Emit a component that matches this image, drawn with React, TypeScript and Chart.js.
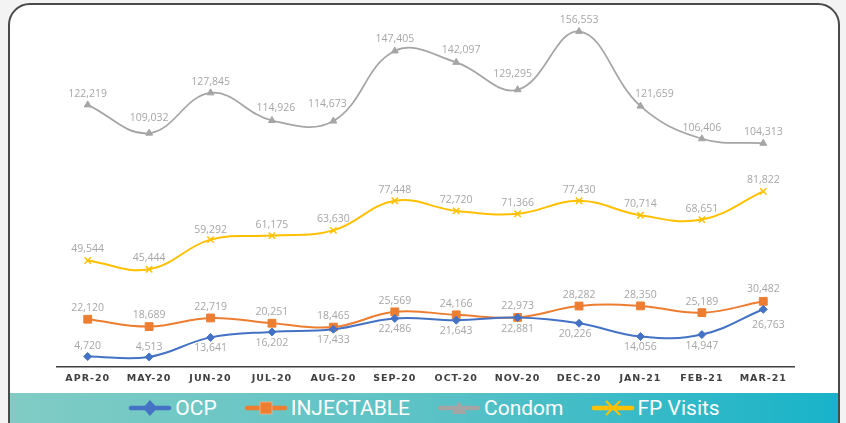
import React, { useEffect, useRef } from 'react';
import { Chart, registerables } from 'chart.js';

Chart.register(...registerables);

// ---------- data ----------
const months = ['APR-20', 'MAY-20', 'JUN-20', 'JUL-20', 'AUG-20', 'SEP-20', 'OCT-20', 'NOV-20', 'DEC-20', 'JAN-21', 'FEB-21', 'MAR-21'];
const ocpValues = [4720, 4513, 13641, 16202, 17433, 22486, 21643, 22881, 20226, 14056, 14947, 26763];
const injectableValues = [22120, 18689, 22719, 20251, 18465, 25569, 24166, 22973, 28282, 28350, 25189, 30482];
const condomValues = [122219, 109032, 127845, 114926, 114673, 147405, 142097, 129295, 156553, 121659, 106406, 104313];
const fpVisitsValues = [49544, 45444, 59292, 61175, 63630, 77448, 72720, 71366, 77430, 70714, 68651, 81822];
const yAxisMin = 0;
const yAxisMax = 160000;
const seriesNames = ['OCP', 'INJECTABLE', 'Condom', 'FP Visits'];

// ---------- value label placement (1 = above, -1 = below) ----------
const ocpLabelSide = [1, 1, -1, -1, -1, -1, -1, -1, -1, -1, -1, -1];
const ocpLabelGap = [10, 10, 11, 11, 11, 11, 11, 11, 11, 11, 11, 16];
const ocpLabelDx = [0, 0, 0, 0, 0, 0, 0, 0, -4, 0, 0, 5];
const injectableLabelSide = [1, 1, 1, 1, 1, 1, 1, 1, 1, 1, 1, 1];
const injectableLabelGap = [11, 12, 11, 11, 11, 11, 11, 11, 11, 11, 11, 12];
const injectableLabelDx = [0, 0, 0, 0, 0, 0, 0, 0, 0, 0, 0, 0];
const condomLabelSide = [1, 1, 1, 1, 1, 1, 1, 1, 1, 1, 1, 1];
const condomLabelGap = [11, 15, 11, 12, 17, 12, 12, 16, 11, 12, 11, 11];
const condomLabelDx = [0, 0, 0, 4, -6, 0, 5, -5, 0, 14, 0, 0];
const fpLabelSide = [1, 1, 1, 1, 1, 1, 1, 1, 1, 1, 1, 1];
const fpLabelGap = [11, 11, 10, 11, 11, 11, 11, 11, 11, 11, 11, 11];
const fpLabelDx = [0, 0, 0, 0, 0, 0, 0, 0, 0, 0, 0, 0];

const COLORS = {
  ocp: '#4472c4',
  injectable: '#ed7d31',
  condom: '#a5a5a5',
  fp: '#ffc000',
};

const labelConfigs = [
  { side: ocpLabelSide, gap: ocpLabelGap, dx: ocpLabelDx },
  { side: injectableLabelSide, gap: injectableLabelGap, dx: injectableLabelDx },
  { side: condomLabelSide, gap: condomLabelGap, dx: condomLabelDx },
  { side: fpLabelSide, gap: fpLabelGap, dx: fpLabelDx },
];

const valueLabelPlugin = {
  id: 'valueLabels',
  afterDatasetsDraw(chart: any) {
    const ctx = chart.ctx;
    ctx.save();
    ctx.letterSpacing = '0px';
    ctx.font = '10.5px "Open Sans"';
    ctx.fillStyle = '#a6a6a6';
    ctx.textAlign = 'center';
    ctx.textBaseline = 'middle';
    chart.data.datasets.forEach((ds: any, i: number) => {
      const meta = chart.getDatasetMeta(i);
      const cfg = labelConfigs[i];
      meta.data.forEach((pt: any, j: number) => {
        const v = ds.data[j] as number;
        ctx.fillText(v.toLocaleString('en-US'), pt.x + cfg.dx[j], pt.y - cfg.side[j] * cfg.gap[j]);
      });
    });
    ctx.restore();
    // x tick labels (drawn on top layer) use letter spacing
    ctx.letterSpacing = '1px';
  },
  afterDraw(chart: any) {
    chart.ctx.letterSpacing = '0px';
  },
};

function LegendMarker({ kind }: { kind: number }) {
  const colors = [COLORS.ocp, COLORS.injectable, COLORS.condom, COLORS.fp];
  const c = colors[kind];
  return (
    <svg width={44} height={20} style={{ display: 'block', marginRight: 3 }}>
      <line x1={3} y1={10} x2={41} y2={10} stroke={c} strokeWidth={4.5} strokeLinecap="round" />
      {kind === 0 && <polygon points="22,2 29,10 22,18 15,10" fill={c} />}
      {kind === 1 && <rect x={16} y={4} width={12} height={12} fill={c} stroke="#f6b58a" strokeWidth={0.8} />}
      {kind === 2 && <polygon points="22,3 29.5,16 14.5,16" fill={c} />}
      {kind === 3 && (
        <g stroke={c} strokeWidth={2}>
          <line x1={15} y1={3} x2={29} y2={17} />
          <line x1={29} y1={3} x2={15} y2={17} />
        </g>
      )}
    </svg>
  );
}

export default function App() {
  const canvasRef = useRef<HTMLCanvasElement | null>(null);

  useEffect(() => {
    if (!canvasRef.current) return;
    const chart = new Chart(canvasRef.current, {
      type: 'line',
      data: {
        labels: months,
        datasets: [
          {
            label: seriesNames[0],
            data: ocpValues,
            borderColor: COLORS.ocp,
            backgroundColor: COLORS.ocp,
            borderWidth: 2,
            pointStyle: 'rectRot',
            pointRadius: 4,
            pointBorderWidth: 1,
            tension: 0.4,
            clip: false,
          },
          {
            label: seriesNames[1],
            data: injectableValues,
            borderColor: COLORS.injectable,
            backgroundColor: COLORS.injectable,
            borderWidth: 2,
            pointStyle: 'rect',
            pointRadius: 5.5,
            pointBorderWidth: 1,
            tension: 0.4,
            clip: false,
          },
          {
            label: seriesNames[2],
            data: condomValues,
            borderColor: COLORS.condom,
            backgroundColor: COLORS.condom,
            borderWidth: 1.75,
            pointStyle: 'triangle',
            pointRadius: 4,
            pointBorderWidth: 1,
            tension: 0.4,
            clip: false,
          },
          {
            label: seriesNames[3],
            data: fpVisitsValues,
            borderColor: COLORS.fp,
            backgroundColor: COLORS.fp,
            borderWidth: 2,
            pointStyle: 'crossRot',
            pointRadius: 4.5,
            pointBorderWidth: 1.5,
            tension: 0.4,
            clip: false,
          },
        ],
      },
      options: {
        responsive: false,
        animation: false,
        devicePixelRatio: 1,
        layout: { padding: { left: 57, right: 52, top: 24, bottom: 33 } },
        plugins: {
          legend: { display: false },
          tooltip: { enabled: false },
        },
        scales: {
          x: {
            offset: true,
            grid: { display: false, drawTicks: false, tickLength: 0 },
            border: { display: true, color: '#404040', width: 1.5 },
            ticks: {
              z: 1,
              padding: 6,
              autoSkip: false,
              maxRotation: 0,
              color: '#404040',
              font: { family: 'DejaVu Sans', weight: 'bold', size: 9.5 },
            },
          },
          y: {
            display: false,
            min: yAxisMin,
            max: yAxisMax,
          },
        },
      },
      plugins: [valueLabelPlugin],
    });
    return () => chart.destroy();
  }, []);

  return (
    <div style={{ position: 'absolute', left: 0, top: 0, width: 846, height: 423, overflow: 'hidden', background: '#f3f3f3' }}>
      <div
        style={{
          position: 'absolute',
          left: 8,
          top: 3,
          width: 832,
          height: 440,
          border: '2px solid #4a4a4a',
          borderRadius: '22px 22px 0 0',
          background: '#ffffff',
          boxSizing: 'border-box',
        }}
      />
      <canvas ref={canvasRef} width={846} height={423} style={{ position: 'absolute', left: 0, top: 0 }} />
      <div
        style={{
          position: 'absolute',
          left: 10,
          top: 393,
          width: 828,
          height: 30,
          background: 'linear-gradient(90deg, #80ccc4 0%, #5cc2c6 50%, #18b3c9 100%)',
          display: 'flex',
          alignItems: 'center',
          justifyContent: 'center',
          fontFamily: 'Roboto, sans-serif',
          fontSize: 21,
          color: '#ffffff',
          lineHeight: '30px',
        }}
      >
        {seriesNames.map((name, i) => (
          <div key={name} style={{ display: 'flex', alignItems: 'center', marginLeft: i === 0 ? 0 : 27 }}>
            <LegendMarker kind={i} />
            <span>{name}</span>
          </div>
        ))}
      </div>
    </div>
  );
}
